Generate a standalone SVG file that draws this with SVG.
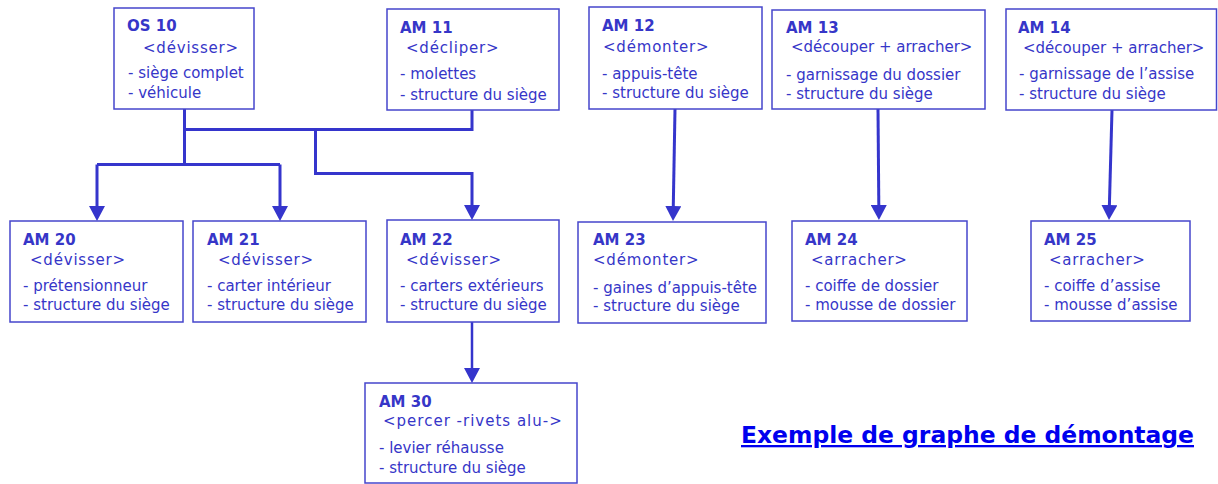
<svg xmlns="http://www.w3.org/2000/svg" width="1218" height="484" viewBox="0 0 1218 484">
<style>
.box{fill:#ffffff;stroke:#4646cc;stroke-width:1.5}
text{font-family:"DejaVu Sans","Noto Sans",sans-serif;font-size:15px;fill:#3636c8}
.h{font-weight:bold}
.a{letter-spacing:0.8px}
.c{fill:none;stroke:#3535cc;stroke-width:3}
.title{font-size:23px;font-weight:bold;fill:#0000ee;text-decoration:underline}
</style>
<defs>
<marker id="ar" markerUnits="userSpaceOnUse" markerWidth="16" markerHeight="16" refX="11" refY="8" orient="auto">
<path d="M0,0 L15,8 L0,16 z" fill="#3535cc"/>
</marker>
</defs>
<rect width="1218" height="484" fill="#ffffff"/>
<g id="connectors">
<path class="c" d="M184.5,109 V164.5"/>
<path class="c" d="M97,164.5 H280"/>
<path class="c" d="M97,164.5 V217" marker-end="url(#ar)"/>
<path class="c" d="M280,164.5 V217" marker-end="url(#ar)"/>
<path class="c" d="M184.5,129.5 H472 V110"/>
<path class="c" d="M315.5,129.5 V173.5 H472 V216" marker-end="url(#ar)"/>
<path class="c" d="M675,109 L673.1,217" marker-end="url(#ar)"/>
<path class="c" d="M878,109 L878.9,216" marker-end="url(#ar)"/>
<path class="c" d="M1112,110 L1109.1,216" marker-end="url(#ar)"/>
<path class="c" style="stroke-width:2.5" d="M472,322 V379" marker-end="url(#ar)"/>
</g>
<g id="os10">
<rect class="box" x="114" y="8" width="140" height="101"/>
<text class="h" x="127" y="31">OS 10</text>
<text class="a" x="143" y="53">&lt;dévisser&gt;</text>
<text x="128" y="78">- siège complet</text>
<text x="128" y="98">- véhicule</text>
</g>
<g id="am11">
<rect class="box" x="387" y="9" width="172" height="101"/>
<text class="h" x="400" y="33">AM 11</text>
<text class="a" x="406" y="53">&lt;décliper&gt;</text>
<text x="400" y="79">- molettes</text>
<text x="400" y="100">- structure du siège</text>
</g>
<g id="am12">
<rect class="box" x="589" y="7" width="173" height="102"/>
<text class="h" x="602" y="31">AM 12</text>
<text class="a" x="603" y="52">&lt;démonter&gt;</text>
<text x="602" y="79">- appuis-tête</text>
<text x="602" y="98">- structure du siège</text>
</g>
<g id="am13">
<rect class="box" x="772" y="10" width="213" height="99"/>
<text class="h" x="786" y="33">AM 13</text>
<text x="791" y="52">&lt;découper + arracher&gt;</text>
<text x="786" y="80">- garnissage du dossier</text>
<text x="786" y="99">- structure du siège</text>
</g>
<g id="am14">
<rect class="box" x="1006" y="9" width="210.5" height="101"/>
<text class="h" x="1018" y="33">AM 14</text>
<text x="1023" y="53">&lt;découper + arracher&gt;</text>
<text x="1019" y="79">- garnissage de l’assise</text>
<text x="1019" y="99">- structure du siège</text>
</g>
<g id="am20">
<rect class="box" x="10" y="221" width="173" height="101"/>
<text class="h" x="23" y="245">AM 20</text>
<text class="a" x="30" y="265">&lt;dévisser&gt;</text>
<text x="23" y="291">- prétensionneur</text>
<text x="23" y="310">- structure du siège</text>
</g>
<g id="am21">
<rect class="box" x="193" y="221" width="173" height="101"/>
<text class="h" x="207" y="245">AM 21</text>
<text class="a" x="218" y="265">&lt;dévisser&gt;</text>
<text x="207" y="291">- carter intérieur</text>
<text x="207" y="310">- structure du siège</text>
</g>
<g id="am22">
<rect class="box" x="387" y="220" width="172" height="102"/>
<text class="h" x="400" y="245">AM 22</text>
<text class="a" x="406" y="265">&lt;dévisser&gt;</text>
<text x="400" y="291">- carters extérieurs</text>
<text x="400" y="310">- structure du siège</text>
</g>
<g id="am23">
<rect class="box" x="578" y="222" width="188" height="101"/>
<text class="h" x="593" y="245">AM 23</text>
<text class="a" x="593" y="265">&lt;démonter&gt;</text>
<text x="593" y="293">- gaines d’appuis-tête</text>
<text x="593" y="311">- structure du siège</text>
</g>
<g id="am24">
<rect class="box" x="792" y="221" width="175" height="100"/>
<text class="h" x="805" y="245">AM 24</text>
<text class="a" x="811" y="265">&lt;arracher&gt;</text>
<text x="805" y="291">- coiffe de dossier</text>
<text x="805" y="310">- mousse de dossier</text>
</g>
<g id="am25">
<rect class="box" x="1031" y="221" width="159" height="100"/>
<text class="h" x="1044" y="245">AM 25</text>
<text class="a" x="1049" y="265">&lt;arracher&gt;</text>
<text x="1044" y="291">- coiffe d’assise</text>
<text x="1044" y="310">- mousse d’assise</text>
</g>
<g id="am30">
<rect class="box" x="365" y="383" width="212" height="100"/>
<text class="h" x="379" y="407">AM 30</text>
<text x="383" y="426" style="letter-spacing:1px">&lt;percer -rivets alu-&gt;</text>
<text x="379" y="453">- levier réhausse</text>
<text x="379" y="473">- structure du siège</text>
</g>
<text class="title" x="741" y="443" textLength="453" lengthAdjust="spacingAndGlyphs">Exemple de graphe de démontage</text>
</svg>
